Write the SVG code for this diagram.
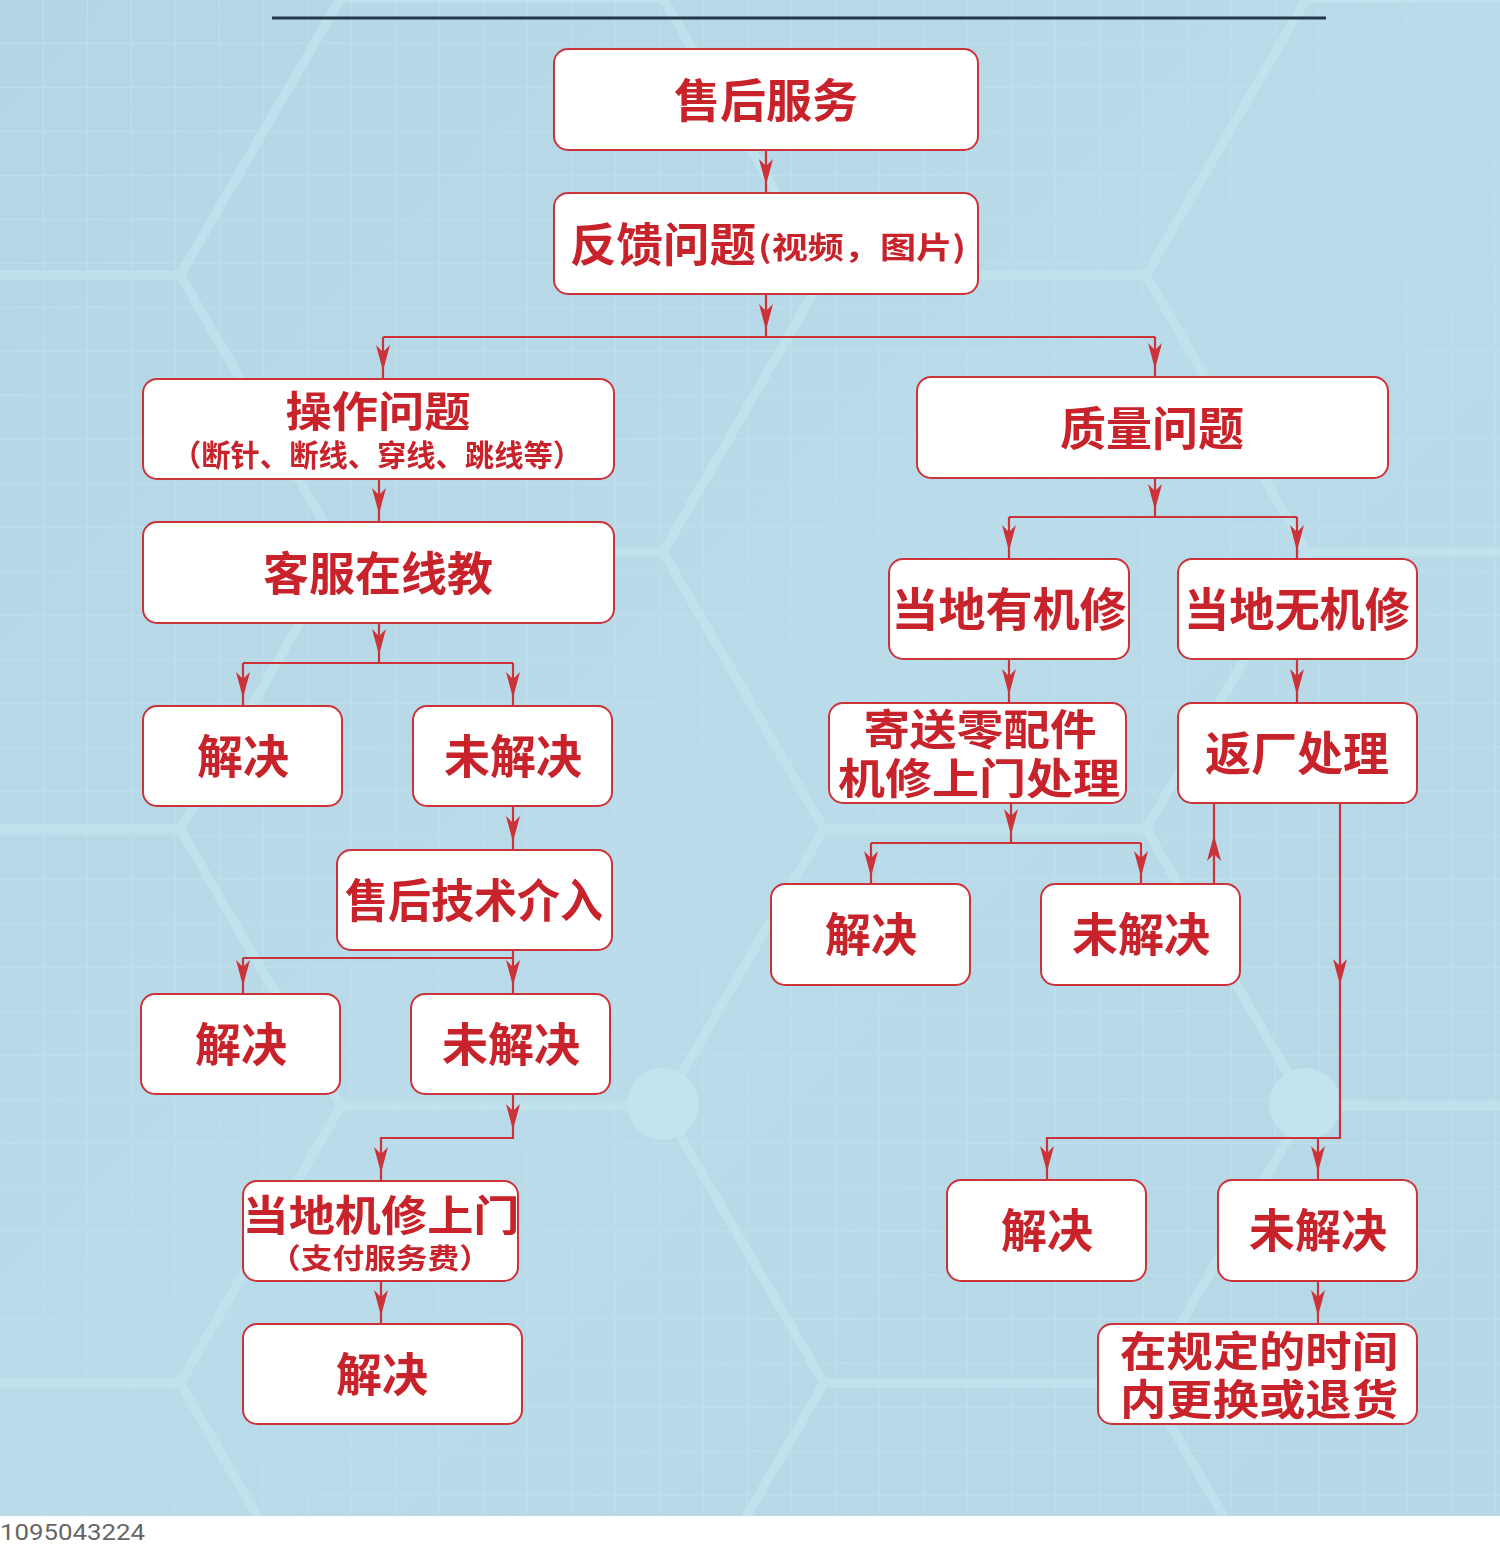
<svg xmlns="http://www.w3.org/2000/svg" xmlns:xlink="http://www.w3.org/1999/xlink" width="1500" height="1550" viewBox="0 0 1500 1550">
<style>
.box{fill:#fff;stroke:#cc3338;stroke-width:2}
.t{font-family:"Noto Sans CJK SC","Noto Sans",sans-serif;font-weight:700;fill:#c8232b;text-anchor:middle;font-size:46px}
.m{font-size:42px}
.s{font-size:30px}
.con{fill:none;stroke:#cc3338;stroke-width:2.2}
.hex{fill:none;stroke:#c3e5ef;stroke-width:9;stroke-linejoin:round}
</style>
<defs>
<linearGradient id="bg" x1="0" y1="0" x2="1" y2="1">
<stop offset="0" stop-color="#b3d6e5"/>
<stop offset="0.5" stop-color="#badbe9"/>
<stop offset="1" stop-color="#b5d7e6"/>
</linearGradient>
<pattern id="grid" width="44" height="44" patternUnits="userSpaceOnUse">
<path d="M43.5 0V44M0 43.5H44" stroke="#c2e0ec" stroke-width="1.5" fill="none" opacity="0.7"/>
</pattern>
<path id="hx" d="M-322 0L-161 -277L161 -277L322 0L161 277L-161 277Z"/>
<path id="ah" d="M0 0L-7 -26L0 -19L7 -26Z" fill="#cc3338"/>
</defs>
<g id="background">
<rect width="1500" height="1550" fill="url(#bg)"/>
<rect width="1500" height="1550" fill="url(#grid)"/>
<g class="hex" opacity="0.7">
<use xlink:href="#hx" x="502" y="-279"/>
<use xlink:href="#hx" x="502" y="275"/>
<use xlink:href="#hx" x="502" y="829"/>
<use xlink:href="#hx" x="502" y="1383"/>
<use xlink:href="#hx" x="19" y="-2"/>
<use xlink:href="#hx" x="19" y="552"/>
<use xlink:href="#hx" x="19" y="1106"/>
<use xlink:href="#hx" x="19" y="1660"/>
<use xlink:href="#hx" x="985" y="-2"/>
<use xlink:href="#hx" x="985" y="552"/>
<use xlink:href="#hx" x="985" y="1106"/>
<use xlink:href="#hx" x="985" y="1660"/>
<use xlink:href="#hx" x="1468" y="-279"/>
<use xlink:href="#hx" x="1468" y="275"/>
<use xlink:href="#hx" x="1468" y="829"/>
<use xlink:href="#hx" x="1468" y="1383"/>
</g>
<circle cx="663" cy="1104" r="36" fill="#c1e4ee"/>
<circle cx="1305" cy="1104" r="36" fill="#c1e4ee"/>
<rect x="0" y="1516" width="1500" height="34" fill="#fff"/>
<line x1="272" y1="18" x2="1326" y2="18" stroke="#22394a" stroke-width="3"/>
<text x="0" y="1540" font-family="'Liberation Sans Narrow',Roboto,sans-serif" font-size="22" fill="#666" textLength="145" lengthAdjust="spacingAndGlyphs">1095043224</text>
</g>
<g id="connectors">
<path class="con" d="M766 150V193M766 294V337M383 337H1155M383 337V379M1155 337V377M379 479V522M379 623V663M243 663H513M243 663V706M513 663V706M513 806V850M513 950V994M243 958H513M243 958V994M513 1094V1138H381V1181M381 1281V1324M1155 478V517M1009 517H1297M1009 517V559M1297 517V559M1009 659V703M1297 659V703M1011 803V843M871 843H1141M871 843V884M1141 843V884M1214 884V803M1340 803V1138H1047V1180M1318 1138V1180M1318 1281V1324"/>
<use xlink:href="#ah" x="766" y="185"/>
<use xlink:href="#ah" x="766" y="330"/>
<use xlink:href="#ah" x="383" y="371"/>
<use xlink:href="#ah" x="1155" y="369"/>
<use xlink:href="#ah" x="379" y="514"/>
<use xlink:href="#ah" x="379" y="655"/>
<use xlink:href="#ah" x="243" y="698"/>
<use xlink:href="#ah" x="513" y="698"/>
<use xlink:href="#ah" x="513" y="842"/>
<use xlink:href="#ah" x="243" y="986"/>
<use xlink:href="#ah" x="513" y="986"/>
<use xlink:href="#ah" x="513" y="1130"/>
<use xlink:href="#ah" x="381" y="1173"/>
<use xlink:href="#ah" x="381" y="1316"/>
<use xlink:href="#ah" x="1155" y="510"/>
<use xlink:href="#ah" x="1009" y="551"/>
<use xlink:href="#ah" x="1297" y="551"/>
<use xlink:href="#ah" x="1009" y="695"/>
<use xlink:href="#ah" x="1297" y="695"/>
<use xlink:href="#ah" x="1011" y="835"/>
<use xlink:href="#ah" x="871" y="877"/>
<use xlink:href="#ah" x="1141" y="877"/>
<use xlink:href="#ah" transform="translate(1214 835) rotate(180)"/>
<use xlink:href="#ah" x="1340" y="985"/>
<use xlink:href="#ah" x="1047" y="1172"/>
<use xlink:href="#ah" x="1318" y="1172"/>
<use xlink:href="#ah" x="1318" y="1316"/>
</g>
<g id="n1"><rect class="box" x="554" y="49" width="424" height="101" rx="14"/><text class="t" x="766" y="117">售后服务</text></g>
<g id="n2"><rect class="box" x="554" y="193" width="424" height="101" rx="14"/><text class="t" x="663" y="261" textLength="186" lengthAdjust="spacingAndGlyphs">反馈问题</text><text class="t s" x="862" y="258" textLength="208" lengthAdjust="spacingAndGlyphs">(视频，图片)</text></g>
<g id="n3"><rect class="box" x="143" y="379" width="471" height="100" rx="14"/><text class="t m" x="378" y="427" textLength="185" lengthAdjust="spacingAndGlyphs">操作问题</text><text class="t s" x="377" y="466" textLength="410" lengthAdjust="spacingAndGlyphs">（断针、断线、穿线、跳线等）</text></g>
<g id="n4"><rect class="box" x="143" y="522" width="471" height="101" rx="14"/><text class="t" x="378" y="590">客服在线教</text></g>
<g id="n5"><rect class="box" x="143" y="706" width="199" height="100" rx="14"/><text class="t" x="243" y="773">解决</text></g>
<g id="n6"><rect class="box" x="413" y="706" width="199" height="100" rx="14"/><text class="t" x="513" y="773">未解决</text></g>
<g id="n7"><rect class="box" x="337" y="850" width="275" height="100" rx="14"/><text class="t" x="474" y="917" textLength="258" lengthAdjust="spacingAndGlyphs">售后技术介入</text></g>
<g id="n8"><rect class="box" x="141" y="994" width="199" height="100" rx="14"/><text class="t" x="241" y="1061">解决</text></g>
<g id="n9"><rect class="box" x="411" y="994" width="199" height="100" rx="14"/><text class="t" x="511" y="1061">未解决</text></g>
<g id="n10"><rect class="box" x="243" y="1181" width="275" height="100" rx="14"/><text class="t m" x="381" y="1231" textLength="277" lengthAdjust="spacingAndGlyphs">当地机修上门</text><text class="t s" x="380" y="1269" font-size="28" style="font-size:28px" textLength="222" lengthAdjust="spacingAndGlyphs">（支付服务费）</text></g>
<g id="n11"><rect class="box" x="243" y="1324" width="279" height="100" rx="14"/><text class="t" x="382" y="1391">解决</text></g>
<g id="n12"><rect class="box" x="917" y="377" width="471" height="101" rx="14"/><text class="t" x="1152" y="445">质量问题</text></g>
<g id="n13"><rect class="box" x="889" y="559" width="240" height="100" rx="14"/><text class="t" x="1009" y="626" textLength="235" lengthAdjust="spacingAndGlyphs">当地有机修</text></g>
<g id="n14"><rect class="box" x="1178" y="559" width="239" height="100" rx="14"/><text class="t" x="1297" y="626" textLength="226" lengthAdjust="spacingAndGlyphs">当地无机修</text></g>
<g id="n15"><rect class="box" x="829" y="703" width="297" height="100" rx="14"/><text class="t m" x="980" y="745" textLength="233" lengthAdjust="spacingAndGlyphs">寄送零配件</text><text class="t m" x="979" y="794" textLength="282" lengthAdjust="spacingAndGlyphs">机修上门处理</text></g>
<g id="n16"><rect class="box" x="1178" y="703" width="239" height="100" rx="14"/><text class="t" x="1297" y="770">返厂处理</text></g>
<g id="n17"><rect class="box" x="771" y="884" width="199" height="101" rx="14"/><text class="t" x="871" y="951">解决</text></g>
<g id="n18"><rect class="box" x="1041" y="884" width="199" height="101" rx="14"/><text class="t" x="1141" y="951">未解决</text></g>
<g id="n19"><rect class="box" x="947" y="1180" width="199" height="101" rx="14"/><text class="t" x="1047" y="1247">解决</text></g>
<g id="n20"><rect class="box" x="1218" y="1180" width="199" height="101" rx="14"/><text class="t" x="1318" y="1247">未解决</text></g>
<g id="n21"><rect class="box" x="1098" y="1324" width="319" height="100" rx="14"/><text class="t m" x="1259" y="1367" textLength="278" lengthAdjust="spacingAndGlyphs">在规定的时间</text><text class="t m" x="1259" y="1415" textLength="278" lengthAdjust="spacingAndGlyphs">内更换或退货</text></g>
</svg>
